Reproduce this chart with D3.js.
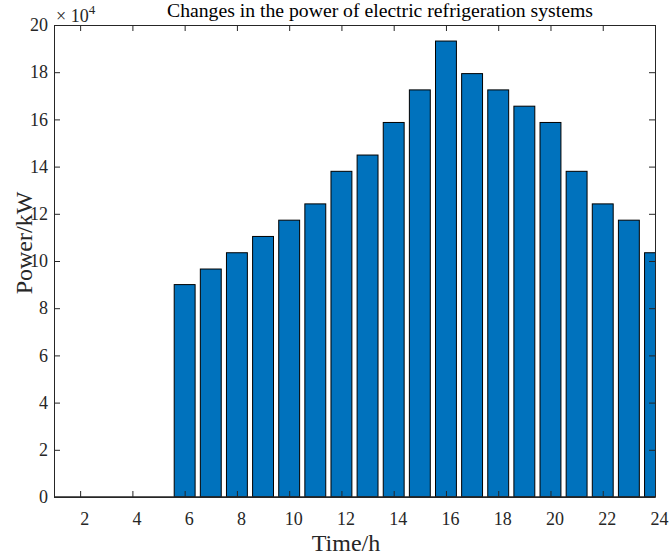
<!DOCTYPE html>
<html>
<head>
<meta charset="utf-8">
<script src="https://cdn.jsdelivr.net/npm/d3@7"></script>
<style>
  html, body { margin: 0; padding: 0; background: #fff; }
  svg { display: block; font-family: "Liberation Serif", "Times New Roman", serif; }
  svg text, svg .tick text { font-family: "Liberation Serif", "Times New Roman", serif; }
</style>
</head>
<body>
<svg id="chart" width="670" height="557"></svg>
<script>
// Hourly power of the electric refrigeration system (kW)
const hours = d3.range(1, 25);
const power = [
  0, 0, 0, 0, 0,
  90000, 96600, 103500, 110400, 117300, 124200, 138000, 144900,
  158700, 172500, 193200, 179400, 172500, 165600, 158700,
  138000, 124200, 117300, 103500
];
const xTicks = [2, 4, 6, 8, 10, 12, 14, 16, 18, 20, 22, 24];
const yTicks = [0, 20000, 40000, 60000, 80000, 100000, 120000, 140000, 160000, 180000, 200000];
const titleText = "Changes in the power of electric refrigeration systems";
const xLabel = "Time/h";
const yLabel = "Power/kW";

const W = 670, H = 557;
const m = { left: 54, right: 15, top: 25, bottom: 60 };
const x0 = m.left, x1 = W - m.right, y0 = H - m.bottom, y1 = m.top;
const serif = "'Liberation Serif', 'Times New Roman', serif";

const svg = d3.select("#chart");
const axisColor = "#262626";

const x = d3.scaleLinear().domain([1, 24]).range([x0, x1]);
const y = d3.scaleLinear().domain([0, 200000]).range([y0, y1]);
const barW = (x(2) - x(1)) * 0.8;

svg.append("defs").append("clipPath").attr("id", "plotClip")
  .append("rect").attr("x", x0).attr("y", y1 - 1).attr("width", x1 - x0).attr("height", y0 - y1 + 2);

const plot = svg.append("g").attr("clip-path", "url(#plotClip)");

// Bars
plot.selectAll("rect.bar")
  .data(hours.map((h, i) => ({ h, v: power[i] })))
  .join("rect")
  .attr("class", "bar")
  .attr("x", d => x(d.h) - barW / 2)
  .attr("y", d => y(d.v))
  .attr("width", barW)
  .attr("height", d => y(0) - y(d.v))
  .attr("fill", "#0072BD")
  .attr("stroke", "#000")
  .attr("stroke-width", 1);

// Bar baseline
plot.append("line")
  .attr("x1", x0).attr("x2", x1)
  .attr("y1", y(0)).attr("y2", y(0))
  .attr("stroke", axisColor).attr("stroke-width", 1.6);

// Axes (box with inward ticks on all four sides)
const tickLen = 6;
const bottomAxis = d3.axisBottom(x).tickValues(xTicks).tickSizeInner(-tickLen).tickSizeOuter(0).tickPadding(15);
const topAxis = d3.axisTop(x).tickValues(xTicks).tickSizeInner(-tickLen).tickSizeOuter(0).tickFormat("");
const leftAxis = d3.axisLeft(y).tickValues(yTicks).tickSizeInner(-tickLen).tickSizeOuter(0).tickPadding(6)
  .tickFormat(d => d / 10000);
const rightAxis = d3.axisRight(y).tickValues(yTicks).tickSizeInner(-tickLen).tickSizeOuter(0).tickFormat("");

function styleAxis(g) {
  g.attr("font-family", serif).attr("font-size", 18);
  g.select(".domain").attr("stroke", axisColor).attr("stroke-width", 1);
  g.selectAll(".tick line").attr("stroke", axisColor).attr("stroke-width", 1);
  g.selectAll(".tick text").attr("fill", axisColor)
    .attr("font-family", serif).attr("font-size", 18);
}

const gx = svg.append("g").attr("transform", `translate(0,${y0})`).call(bottomAxis);
styleAxis(gx);
gx.selectAll(".tick text").attr("dx", 4);
const gt = svg.append("g").attr("transform", `translate(0,${y1})`).call(topAxis);
styleAxis(gt);
const gy = svg.append("g").attr("transform", `translate(${x0},0)`).call(leftAxis);
styleAxis(gy);
const gr = svg.append("g").attr("transform", `translate(${x1},0)`).call(rightAxis);
styleAxis(gr);

// Exponent marker
const exp = svg.append("text")
  .attr("x", 56).attr("y", 22)
  .attr("fill", axisColor)
  .attr("font-size", 18);
exp.append("tspan").text("\u00D7 10");
exp.append("tspan").attr("dy", -8).attr("font-size", 13).text("4");

// Title
svg.append("text")
  .attr("x", 380).attr("y", 17)
  .attr("text-anchor", "middle")
  .attr("fill", "#000")
  .attr("font-size", 19.7)
  .text(titleText);

// Axis labels
svg.append("text")
  .attr("x", 346).attr("y", 551)
  .attr("text-anchor", "middle")
  .attr("fill", axisColor)
  .attr("font-size", 24)
  .text(xLabel);

svg.append("text")
  .attr("transform", "translate(32,243) rotate(-90)")
  .attr("text-anchor", "middle")
  .attr("fill", axisColor)
  .attr("font-size", 24)
  .text(yLabel);
</script>
</body>
</html>
